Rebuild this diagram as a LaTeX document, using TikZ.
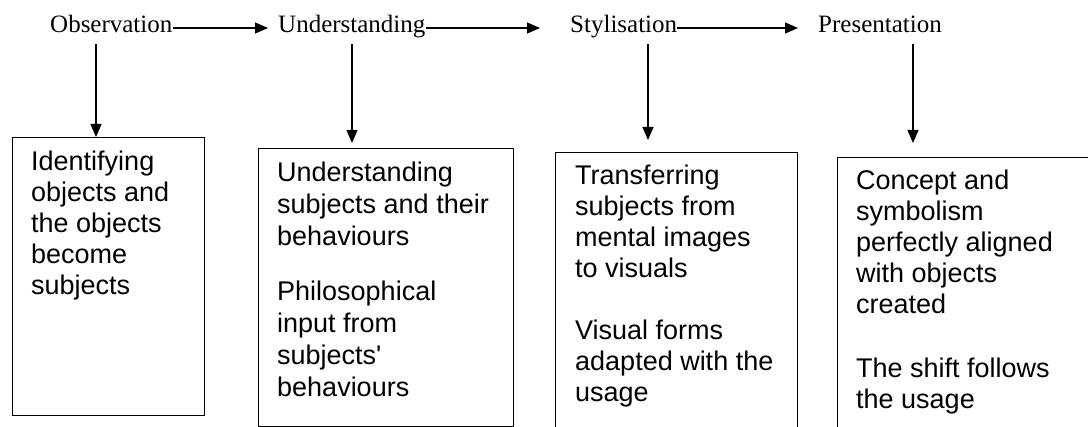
\documentclass[tikz,border=0pt]{standalone}
\usepackage{fontspec}
\setmainfont{Liberation Serif}
\newfontfamily\bodyfont{Liberation Sans}
\usetikzlibrary{arrows.meta}
\begin{document}
\begin{tikzpicture}[x=1pt,y=-1pt,
  lbl/.style={anchor=base west, inner sep=0pt, font=\fontsize{25}{30}\selectfont, text height=17pt, text depth=7pt},
  box/.style={draw, line width=1.3pt, anchor=north west, inner sep=0pt},
  body/.style={anchor=base west, inner sep=0pt, font=\bodyfont\fontsize{27}{31}\selectfont},
  bodyb/.style={body, font=\bodyfont\fontsize{27}{32}\selectfont},
  arr/.style={line width=1.2pt, -{Triangle[length=13pt,width=11pt]}}]
\useasboundingbox (0,0) rectangle (1088,427);
\clip (0,0) rectangle (1088,427);

% top labels
\node[lbl] (obs) at (50,33) {Observation};
\node[lbl] (und) at (278,33) {Understanding};
\node[lbl] (sty) at (570,33) {Stylisation};
\node[lbl] (pre) at (818,33) {Presentation};

\draw[arr, shorten >=10pt] (obs.east) -- (und.west);
\draw[arr, shorten >=30pt] (und.east) -- (sty.west);
\draw[arr, shorten >=20pt] (sty.east) -- (pre.west);

% boxes
\node[box, minimum width=192pt, minimum height=278pt] (b1) at (12,137) {};
\node[box, minimum width=255pt, minimum height=278pt] (b2) at (258,148) {};
\node[box, minimum width=242pt, minimum height=300pt] (b3) at (555,152) {};
\node[box, minimum width=300pt, minimum height=300pt] (b4) at (837,157) {};

% down arrows
\coordinate (d1) at (96,44);
\coordinate (d2) at (352,44);
\coordinate (d3) at (648,44);
\coordinate (d4) at (913,44);
\draw[arr] (d1) -- (d1 |- b1.north);
\draw[arr, shorten >=5pt] (d2) -- (d2 |- b2.north);
\draw[arr, shorten >=12pt] (d3) -- (d3 |- b3.north);
\draw[arr, shorten >=14pt] (d4) -- (d4 |- b4.north);

% box texts
\node[body] (t1) at (31,171) {\begin{tabular}[t]{@{}l@{}}Identifying\\objects and\\the objects\\become\\subjects\end{tabular}};
\node[bodyb] (t2) at (277,182) {\begin{tabular}[t]{@{}l@{}}Understanding\\subjects and their\\behaviours\\[23pt]Philosophical\\input from\\subjects\char"0027\\behaviours\end{tabular}};
\node[body] (t3) at (575,185) {\begin{tabular}[t]{@{}l@{}}Transferring\\subjects from\\mental images\\to visuals\\[31pt]Visual forms\\adapted with the\\usage\end{tabular}};
\node[body] (t4) at (856,190) {\begin{tabular}[t]{@{}l@{}}Concept and\\symbolism\\perfectly aligned\\with objects\\created\\[33pt]The shift follows\\the usage\end{tabular}};
\end{tikzpicture}
\end{document}
